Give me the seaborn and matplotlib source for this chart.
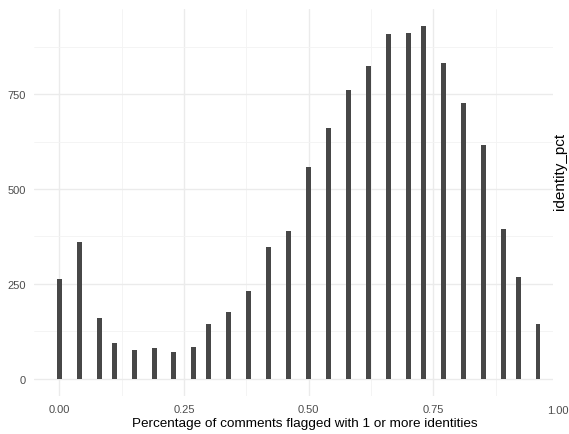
import matplotlib
matplotlib.use("Agg")
import matplotlib.pyplot as plt
import numpy as np
import seaborn as sns

# share of a comment's group flagged with identities, and how many comments fall there
identity_pct = [0.00, 0.04, 0.08, 0.11, 0.15, 0.19, 0.23, 0.27, 0.30, 0.34,
                0.38, 0.42, 0.46, 0.50, 0.54, 0.58, 0.62, 0.66, 0.70, 0.73,
                0.77, 0.81, 0.85, 0.89, 0.92, 0.96]
n_comments = [262, 360, 159, 93, 74, 81, 71, 83, 144, 175,
              231, 347, 389, 559, 662, 762, 825, 908, 912, 929,
              833, 726, 616, 394, 268, 143]
x_ticks = [0.0, 0.25, 0.5, 0.75, 1.0]
x_ticklabels = ["0.00", "0.25", "0.50", "0.75", "1.00"]
y_ticks = [0, 250, 500, 750]

sns.set_theme(style="whitegrid")
plt.rcParams['font.family'] = ['Liberation Sans', 'DejaVu Sans']

fig = plt.figure(figsize=(5.69, 4.35), dpi=100)
ax = fig.add_axes([0.0598, 0.0874, 0.912, 0.89])

sns.histplot(x=identity_pct, weights=n_comments, binwidth=0.01,
             binrange=(-0.005, 0.995), color="#474747", alpha=1,
             edgecolor="none", linewidth=0, ax=ax)

ax.set_xlim(-0.0507, 0.99)
ax.set_ylim(-46, 975)

ax.set_xticks(x_ticks[:-1])
ax.set_xticklabels(x_ticklabels[:-1])
# the last tick label sits just past the panel edge in the original
ax.text(x_ticks[-1], -0.024, x_ticklabels[-1], transform=ax.get_xaxis_transform(),
        ha="center", va="top", fontsize=8, color="#4d4d4d", clip_on=False)
ax.set_yticks(y_ticks)
ax.set_xticks([0.125, 0.375, 0.625, 0.875], minor=True)
ax.set_yticks([125, 375, 625, 875], minor=True)

ax.grid(which="major", color="#ebebeb", linewidth=1.0)
ax.grid(which="minor", color="#f3f3f3", linewidth=0.6)
ax.set_axisbelow(True)
for s in ax.spines.values():
    s.set_visible(False)
ax.tick_params(which="both", length=0, labelsize=8, labelcolor="#4d4d4d", pad=6)

ax.set_xlabel("Percentage of comments flagged with 1 or more identities",
              fontsize=9.7, color="black")
ax.xaxis.set_label_coords(0.521, -0.055)
ax.set_ylabel("")
fig.text(0.985, 0.605, "identity_pct", rotation=90, ha="center", va="center",
         fontsize=11, color="black")

fig.savefig("out.png", dpi=100)
